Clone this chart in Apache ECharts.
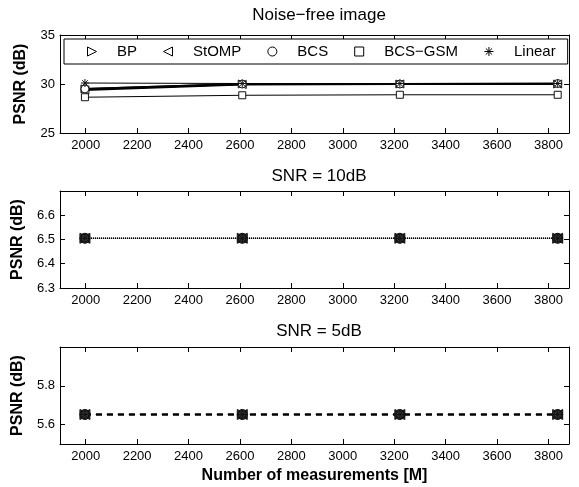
<!DOCTYPE html>
<html>
<head>
<meta charset="utf-8">
<script src="https://cdn.jsdelivr.net/npm/echarts@6/dist/echarts.min.js"></script>
<style>
  html, body { margin: 0; padding: 0; background: #fff; }
  #chart { width: 579px; height: 487px; }
</style>
</head>
<body>
<div id="chart"></div>
<script>
// measurements M on the x axis
const measurements = [1997, 2609, 3222, 3836]
const xTicks = [2000, 2200, 2400, 2600, 2800, 3000, 3200, 3400, 3600, 3800]

const methods = ['BP', 'StOMP', 'BCS', 'BCS−GSM', 'Linear']

// PSNR (dB), noise-free image
const noiseFreeBP = [29.5, 30.0, 30.0, 30.0]
const noiseFreeStOMP = [29.4, 29.95, 30.0, 30.0]
const noiseFreeBCS = [29.5, 30.0, 30.0, 30.05]
const noiseFreeBCSGSM = [28.65, 28.85, 28.9, 28.9]
const noiseFreeLinear = [30.1, 30.05, 30.05, 30.05]

// PSNR (dB), SNR = 10dB (all methods coincide)
const snr10BP = [6.505, 6.505, 6.505, 6.505]
const snr10StOMP = [6.505, 6.505, 6.505, 6.505]
const snr10BCS = [6.505, 6.505, 6.505, 6.505]
const snr10BCSGSM = [6.505, 6.505, 6.505, 6.505]
const snr10Linear = [6.505, 6.505, 6.505, 6.505]

// PSNR (dB), SNR = 5dB (all methods coincide)
const snr5BP = [5.652, 5.652, 5.652, 5.652]
const snr5StOMP = [5.652, 5.652, 5.652, 5.652]
const snr5BCS = [5.652, 5.652, 5.652, 5.652]
const snr5BCSGSM = [5.652, 5.652, 5.652, 5.652]
const snr5Linear = [5.652, 5.652, 5.652, 5.652]

const yTicks1 = [25, 30, 35]
const yTicks2 = [6.3, 6.4, 6.5, 6.6]
const yTicks3 = [5.6, 5.8]

const symbols = {
  'BP': 'path://M0,0L10,5L0,10Z',
  'StOMP': 'path://M10,0L0,5L10,10Z',
  'BCS': 'circle',
  'BCS−GSM': 'path://M0,0L10,0L10,10L0,10Z',
  'Linear': 'path://M5,0L5,10M0,5L10,5M1.5,1.5L8.5,8.5M8.5,1.5L1.5,8.5',
}

const font = 'Liberation Sans, Arial, Helvetica, sans-serif'

const grids = [
  { left: 60, top: 35, width: 509, height: 98 },
  { left: 60, top: 191, width: 509, height: 97 },
  { left: 60, top: 347, width: 509, height: 97 },
]

const xAxes = []
const yAxes = []

function addAxes(g, yMin, yMax, yTicks, xName) {
  const tick = { show: true, inside: true, length: 5, lineStyle: { color: '#000' } }
  const line = { show: true, onZero: false, lineStyle: { color: '#000', width: 1 } }
  const label = { color: '#000', fontSize: 13, fontFamily: font, formatter: (v) => String(v) }
  xAxes.push({
    type: 'value', gridIndex: g, position: 'bottom', min: 1900, max: 3880,
    axisLine: line,
    axisTick: { ...tick, customValues: xTicks },
    axisLabel: { ...label, customValues: xTicks, margin: 6 },
    splitLine: { show: false },
    name: xName, nameLocation: 'middle', nameGap: 24,
    nameTextStyle: { color: '#000', fontSize: 16, fontWeight: 'bold', fontFamily: font },
  })
  xAxes.push({
    type: 'value', gridIndex: g, position: 'top', min: 1900, max: 3880,
    axisLine: line,
    axisTick: { ...tick, customValues: xTicks },
    axisLabel: { show: false },
    splitLine: { show: false },
  })
  yAxes.push({
    type: 'value', gridIndex: g, position: 'left', min: yMin, max: yMax,
    axisLine: line,
    axisTick: { ...tick, customValues: yTicks },
    axisLabel: { ...label, customValues: yTicks, margin: 5 },
    splitLine: { show: false },
    name: 'PSNR (dB)', nameLocation: 'middle', nameGap: 31,
    nameTextStyle: { color: '#000', fontSize: 16, fontWeight: 'bold', fontFamily: font },
  })
  yAxes.push({
    type: 'value', gridIndex: g, position: 'right', min: yMin, max: yMax,
    axisLine: line,
    axisTick: { ...tick, customValues: yTicks },
    axisLabel: { show: false },
    splitLine: { show: false },
  })
}

addAxes(0, 25, 35, yTicks1, '')
addAxes(1, 6.3, 6.7, yTicks2, '')
addAxes(2, 5.5, 6.0, yTicks3, 'Number of measurements [M]')

function makeSeries(g, name, values, lineWidth, lineType) {
  const merged = g > 0
  const isSquare = name === 'BCS−GSM'
  return {
    name: name,
    type: 'line',
    xAxisIndex: g * 2,
    yAxisIndex: g * 2,
    data: measurements.map((m, i) => [m, values[i]]),
    symbol: symbols[name],
    symbolSize: isSquare ? 7 : (merged ? 10 : 8),
    showAllSymbol: true,
    lineStyle: { color: '#000', width: lineWidth, type: lineType },
    itemStyle: { color: merged ? '#3a3a3a' : '#fff', borderColor: '#111', borderWidth: 1 },
    emphasis: { disabled: true },
    animation: false,
  }
}

const series = [
  makeSeries(0, 'BP', noiseFreeBP, 2, 'solid'),
  makeSeries(0, 'StOMP', noiseFreeStOMP, 2, 'solid'),
  makeSeries(0, 'BCS', noiseFreeBCS, 2, 'solid'),
  makeSeries(0, 'BCS−GSM', noiseFreeBCSGSM, 1, 'solid'),
  makeSeries(0, 'Linear', noiseFreeLinear, 1, 'solid'),
  makeSeries(1, 'BP', snr10BP, 1, 'dotted'),
  makeSeries(1, 'StOMP', snr10StOMP, 1, 'dotted'),
  makeSeries(1, 'BCS', snr10BCS, 1, 'dotted'),
  makeSeries(1, 'BCS−GSM', snr10BCSGSM, 1, 'dotted'),
  makeSeries(1, 'Linear', snr10Linear, 1, 'dotted'),
  makeSeries(2, 'BP', snr5BP, 1.5, [6, 5]),
  makeSeries(2, 'StOMP', snr5StOMP, 1.5, [6, 5]),
  makeSeries(2, 'BCS', snr5BCS, 1.5, [6, 5]),
  makeSeries(2, 'BCS−GSM', snr5BCSGSM, 1.5, [6, 5]),
  makeSeries(2, 'Linear', snr5Linear, 1.5, [6, 5]),
]

const titleStyle = { color: '#000', fontSize: 17, fontWeight: 'normal', fontFamily: font }

const chart = echarts.init(document.getElementById('chart'), null, { renderer: 'canvas' })
chart.setOption({
  animation: false,
  backgroundColor: '#fff',
  title: [
    { text: 'Noise−free image', left: 314, top: 2, textAlign: 'center', textStyle: titleStyle },
    { text: 'SNR = 10dB', left: 314, top: 163, textAlign: 'center', textStyle: titleStyle },
    { text: 'SNR = 5dB', left: 314, top: 318, textAlign: 'center', textStyle: titleStyle },
  ],
  legend: {
    left: 64,
    top: 39,
    padding: [5, 12, 5, 23],
    itemWidth: 40,
    itemHeight: 9,
    itemGap: 26,
    borderColor: '#000',
    borderWidth: 1,
    backgroundColor: '#fff',
    selectedMode: false,
    itemStyle: { color: '#fff', borderColor: '#000', borderWidth: 1 },
    lineStyle: { width: 0 },
    textStyle: { color: '#000', fontSize: 15, fontFamily: font },
    data: methods.map((m) => ({ name: m, icon: symbols[m] })),
  },
  grid: grids,
  xAxis: xAxes,
  yAxis: yAxes,
  series: series,
})
</script>
</body>
</html>
